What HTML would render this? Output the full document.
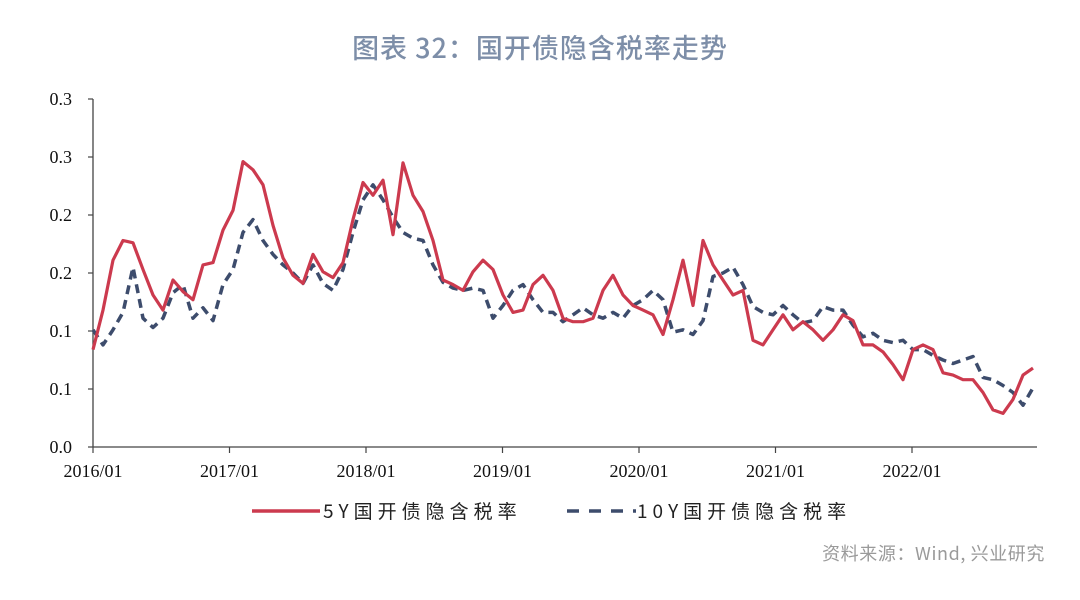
<!DOCTYPE html>
<html><head><meta charset="utf-8">
<style>
html,body{margin:0;padding:0;background:#fff;}
body{width:1080px;height:600px;overflow:hidden;position:relative;font-family:"Liberation Sans","Noto Sans CJK SC",sans-serif;}
#title{position:absolute;left:0;width:1080px;top:27px;text-align:center;font-size:27px;color:#7d8ea8;font-family:"Noto Sans CJK SC","Liberation Sans",sans-serif;font-weight:500;letter-spacing:1px;}
#source{position:absolute;right:35px;top:540px;font-size:18px;color:#9a9a9a;font-family:"Noto Sans CJK SC","Liberation Sans",sans-serif;letter-spacing:0.6px;}
svg{position:absolute;left:0;top:0;}
</style></head>
<body>
<div id="title">图表 32：国开债隐含税率走势</div>
<svg id="chart" width="1080" height="600"></svg>
<div id="source">资料来源：Wind, 兴业研究</div>
<script>
const yTicks = [0, 0.05, 0.10, 0.15, 0.20, 0.25, 0.30];
const yTickLabels = ["0.0","0.1","0.1","0.2","0.2","0.3","0.3"];
const xTickYears = [2016, 2017, 2018, 2019, 2020, 2021, 2022];
const xTickLabels = ["2016/01","2017/01","2018/01","2019/01","2020/01","2021/01","2022/01"];
const seriesNames = ["5Y国开债隐含税率","10Y国开债隐含税率"];
const startYear = 2016;
const stepYears = 10/136.5;
const y5 = [0.084,0.118,0.161,0.178,0.176,0.153,0.131,0.118,0.144,0.134,
0.127,0.157,0.159,0.187,0.204,0.246,0.239,0.226,0.191,0.163,
0.148,0.141,0.166,0.151,0.146,0.159,0.196,0.228,0.217,0.230,
0.183,0.245,0.217,0.203,0.178,0.144,0.140,0.135,0.151,0.161,
0.153,0.131,0.116,0.118,0.140,0.148,0.135,0.111,0.108,0.108,
0.111,0.135,0.148,0.131,0.122,0.118,0.114,0.097,0.127,0.161,
0.122,0.178,0.157,0.144,0.131,0.135,0.092,0.088,0.101,0.114,
0.101,0.108,0.101,0.092,0.101,0.114,0.109,0.088,0.088,0.082,
0.071,0.058,0.084,0.088,0.084,0.064,0.062,0.058,0.058,0.047,
0.032,0.029,0.041,0.062,0.068];
const y10 = [0.101,0.088,0.101,0.116,0.155,0.111,0.103,0.111,0.133,0.140,
0.111,0.120,0.109,0.140,0.153,0.185,0.196,0.178,0.166,0.157,
0.150,0.141,0.157,0.141,0.135,0.153,0.185,0.213,0.226,0.213,
0.198,0.185,0.180,0.178,0.157,0.142,0.137,0.135,0.137,0.135,
0.111,0.122,0.135,0.140,0.127,0.116,0.116,0.108,0.114,0.120,
0.114,0.111,0.116,0.111,0.122,0.127,0.135,0.127,0.099,0.101,
0.097,0.109,0.147,0.150,0.155,0.140,0.121,0.116,0.114,0.122,
0.114,0.107,0.109,0.121,0.118,0.118,0.105,0.095,0.098,0.092,
0.090,0.092,0.084,0.084,0.079,0.075,0.072,0.075,0.078,0.060,
0.058,0.053,0.047,0.036,0.051];

const NS="http://www.w3.org/2000/svg";
const svg=document.getElementById('chart');
const X0=93, X1=1037, Y0=447, Ytop=99;
function xScale(year){ return X0 + (year-startYear)*136.5; }
function yScale(v){ return Y0 - (v/0.30)*(Y0-Ytop); }
function mk(tag, attrs){ const e=document.createElementNS(NS,tag); for(const k in attrs) e.setAttribute(k,attrs[k]); svg.appendChild(e); return e; }

let ax=mk('line',{x1:X0,y1:Ytop,x2:X0,y2:Y0,stroke:'#444','stroke-width':1.3});


let bx=mk('line',{x1:X0,y1:Y0,x2:X1,y2:Y0,stroke:'#444','stroke-width':1.3});



yTicks.forEach((t,i)=>{
  const y=yScale(t);
  const tk=mk('line',{x1:X0-5,y1:y,x2:X0,y2:y,stroke:'#444','stroke-width':1.2});
  
  
  const tx=mk('text',{x:72,y:y+6,'text-anchor':'end','font-family':'"Liberation Serif",serif','font-size':18,fill:'#111'});
  tx.textContent=yTickLabels[i];
  
  
});
xTickYears.forEach((yr,i)=>{
  const x=xScale(yr);
  const tk=mk('line',{x1:x,y1:Y0,x2:x,y2:Y0+6,stroke:'#444','stroke-width':1.2});
  
  
  const tx=mk('text',{x:x,y:477,'text-anchor':'middle','font-family':'"Liberation Serif",serif','font-size':18,fill:'#111'});
  tx.textContent=xTickLabels[i];
  
  
});

function pathFor(arr){
  return arr.map((v,i)=>(i?'L':'M')+xScale(startYear+i*stepYears).toFixed(1)+','+yScale(v).toFixed(1)).join(' ');
}
const p10=mk('path',{d:pathFor(y10),fill:'none',stroke:'#3d4c6c','stroke-width':3.5,'stroke-dasharray':'9,6','stroke-linejoin':'round'});


const p5=mk('path',{d:pathFor(y5),fill:'none',stroke:'#cc3a4e','stroke-width':3.2,'stroke-linejoin':'round'});



const l1=mk('line',{x1:252,y1:511,x2:320,y2:511,stroke:'#cc3a4e','stroke-width':3.5});


const t1=mk('text',{x:323,y:518,'font-family':'"Noto Sans CJK SC",sans-serif','font-size':19,'letter-spacing':5,fill:'#222'});
t1.textContent=seriesNames[0];


const l2=mk('line',{x1:567,y1:511,x2:636,y2:511,stroke:'#3d4c6c','stroke-width':3.5,'stroke-dasharray':'12,10'});


const t2=mk('text',{x:637,y:518,'font-family':'"Noto Sans CJK SC",sans-serif','font-size':19,'letter-spacing':5,fill:'#222'});
t2.textContent=seriesNames[1];


</script>
</body></html>
